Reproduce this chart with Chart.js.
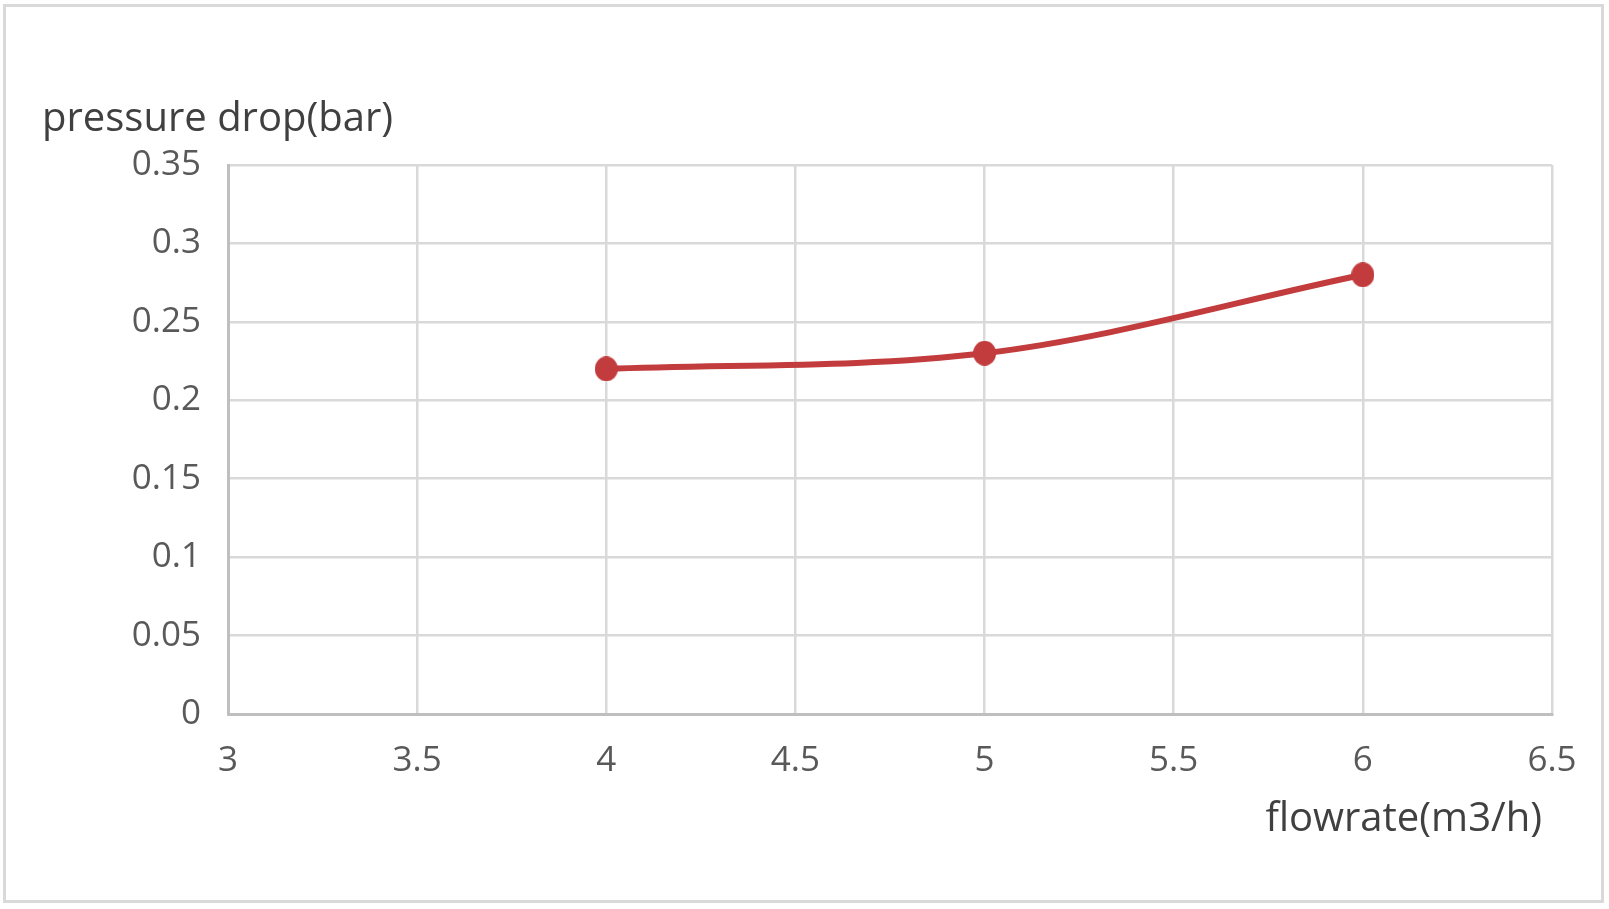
<!DOCTYPE html>
<html>
<head>
<meta charset="utf-8">
<script src="https://cdn.jsdelivr.net/npm/chart.js@4/dist/chart.umd.min.js"></script>
<style>
  html, body { margin: 0; padding: 0; background: #ffffff; }
  #wrap { position: relative; width: 1609px; height: 909px; }
  canvas { display: block; }
</style>
</head>
<body>
<div id="wrap"><canvas id="c" width="1609" height="909"></canvas></div>
<script>
// ---- data ----
const flowrate = [4, 5, 6];
const pressureDrop = [0.22, 0.23, 0.28];
const xTicks = [3, 3.5, 4, 4.5, 5, 5.5, 6, 6.5];
const yTicks = [0, 0.05, 0.1, 0.15, 0.2, 0.25, 0.3, 0.35];
const yTitle = 'pressure drop(bar)';
const xTitle = 'flowrate(m3/h)';

const FONT = '"Open Sans", "Noto Sans", sans-serif';
const TEXT = '#595959';
const TITLE = '#404040';
const RED = '#c23b3d';
const points = flowrate.map((x, i) => ({ x: x, y: pressureDrop[i] }));

// marker (reference markers are slightly taller than wide)
const marker = document.createElement('canvas');
marker.width = 23; marker.height = 25;
(function () {
  const m = marker.getContext('2d');
  m.fillStyle = RED;
  m.beginPath();
  m.ellipse(11.5, 12.5, 11.5, 12.5, 0, 0, Math.PI * 2);
  m.fill();
})();

const decor = {
  id: 'decor',
  beforeDraw(chart) {
    const ctx = chart.ctx;
    ctx.save();
    ctx.fillStyle = '#ffffff';
    ctx.fillRect(0, 0, chart.width, chart.height);
    ctx.strokeStyle = '#d9d9d9';
    ctx.lineWidth = 3;
    ctx.strokeRect(4.5, 5.5, 1598, 896);
    ctx.restore();
  },
  afterDraw(chart) {
    const ctx = chart.ctx;
    ctx.save();
    ctx.fillStyle = TITLE;
    ctx.font = '40px ' + FONT;
    ctx.textBaseline = 'alphabetic';
    ctx.textAlign = 'left';
    ctx.fillText(yTitle, 42, 131);
    ctx.textAlign = 'right';
    ctx.fillText(xTitle, 1542, 831);
    ctx.restore();
  }
};

new Chart(document.getElementById('c'), {
  type: 'scatter',
  data: {
    datasets: [{
      data: points,
      showLine: true,
      borderColor: RED,
      backgroundColor: RED,
      borderWidth: 6,
      pointStyle: marker,
      pointRadius: 12,
      pointHoverRadius: 12,
      cubicInterpolationMode: 'monotone'
    }]
  },
  options: {
    responsive: false,
    animation: false,
    layout: { padding: { left: 0, right: 57, top: 165, bottom: 0 } },
    plugins: { legend: { display: false }, tooltip: { enabled: false } },
    scales: {
      x: {
        type: 'linear',
        min: 3, max: 6.5,
        afterFit(s) { s.height = 195; },
        afterBuildTicks(s) { s.ticks = xTicks.map(v => ({ value: v })); },
        grid: { color: '#d9d9d9', lineWidth: 2.5, drawTicks: false },
        border: { color: '#bfbfbf', width: 3 },
        ticks: {
          color: TEXT, font: { family: FONT, size: 35 }, padding: 26,
          maxRotation: 0, autoSkip: false,
          callback: v => String(v)
        }
      },
      y: {
        type: 'linear',
        min: 0, max: 0.35,
        afterFit(s) { s.width = 228; },
        afterBuildTicks(s) { s.ticks = yTicks.map(v => ({ value: v })); },
        grid: { color: '#d9d9d9', lineWidth: 2.5, drawTicks: false },
        border: { color: '#bfbfbf', width: 3 },
        ticks: {
          color: TEXT, font: { family: FONT, size: 35 }, padding: 27,
          autoSkip: false,
          callback: v => String(+v.toFixed(2))
        }
      }
    }
  },
  plugins: [decor]
});
</script>
</body>
</html>
